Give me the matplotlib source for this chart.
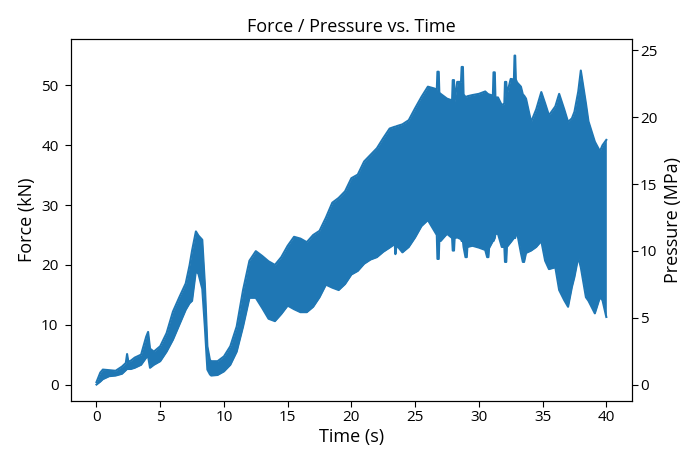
import matplotlib
matplotlib.use("Agg")
import matplotlib.pyplot as plt

plt.rcParams['font.family'] = ['Open Sans', 'DejaVu Sans']

# Envelope of the force signal
time_s = [0.0, 0.3, 0.5, 1.0, 1.5, 2.0, 2.3, 2.4, 2.5, 2.7, 3.0, 3.5, 3.9, 4.05,
          4.15, 4.2, 4.5, 5.0, 5.5, 6.0, 6.5, 7.0, 7.3, 7.5, 7.8, 8.0, 8.3, 8.5,
          8.7, 8.9, 9.0, 9.5, 10.0, 10.5, 11.0, 11.5, 12.0, 12.5, 13.0, 13.5, 14.0,
          14.5, 15.0, 15.5, 16.0, 16.5, 17.0, 17.5, 18.0, 18.5, 19.0, 19.5, 20.0,
          20.5, 21.0, 21.5, 22.0, 22.5, 23.0, 23.4, 23.45, 23.55, 24.0, 24.5, 25.0,
          25.5, 26.0, 26.5, 26.7, 26.75, 26.85, 26.9, 27.0, 27.5, 27.9, 27.95, 28.05,
          28.1, 28.3, 28.6, 28.65, 28.75, 28.8, 28.95, 29.05, 29.1, 29.5, 30.0, 30.5,
          30.65, 30.75, 30.8, 31.1, 31.15, 31.25, 31.3, 31.5, 31.8, 32.0, 32.05, 32.15,
          32.2, 32.5, 32.75, 32.8, 32.85, 32.9, 33.0, 33.3, 33.45, 33.55, 33.7, 34.1,
          34.5, 34.9, 35.2, 35.5, 36.0, 36.3, 36.7, 37.0, 37.3, 37.5, 37.8, 38.0,
          38.4, 38.6, 39.1, 39.5, 39.7, 40.0]
force_upper = [0.4, 2.0, 2.5, 2.4, 2.3, 3.0, 3.6, 5.1, 3.8, 4.0, 4.5, 5.0, 8.0, 8.8,
               7.0, 6.0, 5.5, 6.4, 8.6, 12.2, 14.6, 16.9, 19.9, 22.4, 25.6, 24.9, 24.2, 16.9,
               6.4, 4.1, 3.9, 3.9, 4.7, 6.4, 9.7, 15.8, 20.7, 22.3, 21.5, 20.6, 20.0,
               21.3, 23.2, 24.7, 24.4, 23.8, 25.0, 25.7, 27.9, 30.4, 31.2, 32.3, 34.5,
               35.1, 37.3, 38.4, 39.5, 41.2, 42.8, 43.1, 43.1, 43.2, 43.5, 44.2, 46.2,
               48.1, 49.8, 49.5, 49.3, 52.3, 52.3, 48.8, 48.6, 47.8, 47.5, 50.9, 50.9,
               47.3, 50.6, 50.6, 53.1, 53.1, 48.5, 48.1, 48.1, 48.2, 48.4, 48.6, 49.0,
               48.7, 48.5, 48.5, 48.3, 52.2, 52.2, 48.0, 48.0, 46.7, 47.0, 50.6, 50.6,
               48.5, 51.1, 51.0, 55.0, 55.0, 51.0, 50.5, 49.8, 48.5, 48.3, 47.8, 43.9,
               46.0, 48.9, 47.0, 45.0, 46.5, 48.6, 46.0, 43.9, 44.5, 45.6, 49.0, 52.5,
               47.0, 44.0, 40.6, 39.0, 40.0, 40.9]
force_lower = [0.0, 0.5, 0.9, 1.4, 1.5, 1.8, 2.4, 2.6, 2.6, 2.6, 2.8, 3.3, 4.5, 4.7,
               3.5, 2.8, 3.3, 3.9, 5.5, 7.5, 10.0, 12.5, 13.6, 14.0, 19.0, 18.5, 16.0, 9.7,
               2.5, 1.7, 1.5, 1.6, 2.2, 3.3, 5.5, 9.7, 14.5, 14.5, 12.8, 11.0, 10.6,
               11.8, 13.2, 12.6, 12.1, 12.1, 13.0, 14.6, 16.7, 16.2, 15.8, 16.8, 18.4,
               19.0, 20.2, 20.9, 21.3, 22.2, 22.9, 23.5, 21.8, 23.3, 22.1, 23.0, 24.6,
               26.5, 27.5, 25.7, 25.0, 21.0, 21.0, 24.2, 24.0, 25.2, 24.5, 22.4, 22.4,
               24.5, 24.6, 24.3, 24.0, 24.0, 23.0, 21.3, 21.3, 23.0, 23.2, 22.9, 22.5,
               21.3, 21.3, 22.8, 24.0, 24.0, 24.5, 25.2, 25.2, 23.0, 23.0, 20.5, 20.5,
               23.0, 23.8, 24.5, 24.5, 24.5, 25.0, 25.4, 22.0, 20.5, 20.5, 22.0, 22.4,
               23.0, 24.0, 20.7, 19.3, 19.6, 15.8, 14.1, 13.0, 16.3, 18.0, 21.3, 19.6,
               14.6, 14.0, 11.9, 14.6, 14.1, 11.3]

kn_to_mpa = 0.4475  # pressure axis scale relative to force axis

color = "#1f77b4"
fig = plt.figure(figsize=(6.86, 4.55), dpi=100)
ax = fig.add_axes([0.1035, 0.1187, 0.8175, 0.7953])
ax.fill_between(time_s, force_lower, force_upper, color=color, lw=0)
ax.plot(time_s, force_upper, color=color, lw=1.5)
ax.plot(time_s, force_lower, color=color, lw=1.5)
ax.set_xlabel("Time (s)", fontsize=13, labelpad=2)
ax.set_ylabel("Force (kN)", fontsize=13, labelpad=4)
ax.set_title("Force / Pressure vs. Time", fontsize=13, pad=5)
ax.set_xticks([0, 5, 10, 15, 20, 25, 30, 35, 40])
ax.tick_params(axis='x', labelsize=11, length=4, pad=2.5)
ax.tick_params(axis='y', labelsize=11, length=4.5, pad=4.5)

ax2 = ax.twinx()
lo, hi = ax.get_ylim()
ax2.set_ylim(lo * kn_to_mpa, hi * kn_to_mpa)
ax2.set_ylabel("Pressure (MPa)", fontsize=13, labelpad=5)
ax2.tick_params(axis='y', labelsize=11, length=4, pad=2)

fig.savefig("out.png", dpi=100)
